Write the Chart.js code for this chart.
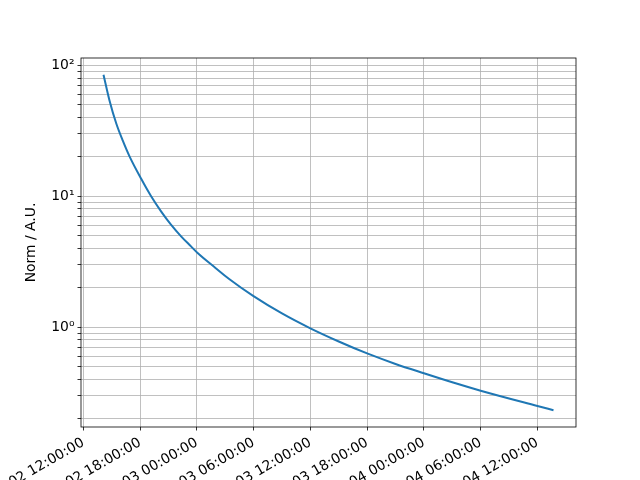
<!DOCTYPE html>
<html>
<head>
<meta charset="utf-8">
<script src="https://cdn.jsdelivr.net/npm/chart.js@4.4.0/dist/chart.umd.min.js"></script>
<style>
  html, body { margin: 0; padding: 0; background: #fff; }
</style>
</head>
<body>
<canvas id="normChart" width="640" height="480"></canvas>
<script>
// sample times and the values
const sampleTimes = [
  '2021-03-02 14:08', '2021-03-02 14:46', '2021-03-02 15:29', '2021-03-02 16:11',
  '2021-03-02 16:53', '2021-03-02 18:07', '2021-03-02 19:10', '2021-03-02 20:13',
  '2021-03-02 21:16', '2021-03-02 22:20', '2021-03-02 23:23', '2021-03-03 00:05',
  '2021-03-03 02:00', '2021-03-03 03:25', '2021-03-03 05:57', '2021-03-03 09:00',
  '2021-03-03 12:00', '2021-03-03 15:00', '2021-03-03 18:00', '2021-03-03 21:00',
  '2021-03-04 00:00', '2021-03-04 03:00', '2021-03-04 06:00', '2021-03-04 12:00',
  '2021-03-04 13:42'
];
const normValues = [
  85, 54, 36, 26.5,
  20.2, 13.6, 10, 7.67,
  6.07, 4.94, 4.14, 3.68,
  2.82, 2.33, 1.73, 1.27,
  0.977, 0.775, 0.628, 0.522,
  0.443, 0.378, 0.326, 0.249,
  0.231
];
const xTickLabels = [
  '2021-03-02 12:00:00', '2021-03-02 18:00:00', '2021-03-03 00:00:00',
  '2021-03-03 06:00:00', '2021-03-03 12:00:00', '2021-03-03 18:00:00',
  '2021-03-04 00:00:00', '2021-03-04 06:00:00', '2021-03-04 12:00:00'
];
const yTickLabels = { 1: '10\u2070', 10: '10\u00b9', 100: '10\u00b2' };

function toMs(s) {
  const [d, t] = s.split(' ');
  const [Y, M, D] = d.split('-').map(Number);
  const [h, m, sec] = t.split(':').map(Number);
  return Date.UTC(Y, M - 1, D, h, m || 0, sec || 0);
}

const points = sampleTimes.map((t, i) => ({ x: toMs(t), y: normValues[i] }));
const xTickValues = xTickLabels.map(toMs);

// matplotlib style 5% margins
const xLo = points[0].x, xHi = points[points.length - 1].x;
const xPad = (xHi - xLo) * 0.05;
const lLo = Math.log10(Math.min(...normValues)), lHi = Math.log10(Math.max(...normValues));
const lPad = (lHi - lLo) * 0.05;
const yMin = Math.pow(10, lLo - lPad), yMax = Math.pow(10, lHi + lPad);

const gridColor = '#b0b0b0';
const tickFont = { family: 'DejaVu Sans', size: 13.9 };

// black box round the plot area
const framePlugin = {
  id: 'frame',
  afterDraw(chart) {
    const { ctx, chartArea: a } = chart;
    ctx.save();
    ctx.strokeStyle = '#000';
    ctx.lineWidth = 0.8;
    ctx.strokeRect(a.left, a.top, a.right - a.left, a.bottom - a.top);
    ctx.restore();
  }
};

new Chart(document.getElementById('normChart'), {
  type: 'line',
  data: {
    datasets: [{
      data: points,
      borderColor: '#1f77b4',
      borderWidth: 2,
      pointRadius: 0,
      fill: false,
      cubicInterpolationMode: 'monotone'
    }]
  },
  options: {
    responsive: false,
    devicePixelRatio: 1,
    animation: false,
    layout: { padding: { top: 58, right: 64, left: 0, bottom: 0 } },
    plugins: { legend: { display: false }, tooltip: { enabled: false } },
    scales: {
      x: {
        type: 'linear',
        min: xLo - xPad,
        max: xHi + xPad,
        afterBuildTicks(scale) {
          scale.ticks = xTickValues.map(v => ({ value: v }));
        },
        afterFit(scale) {
          scale.height = 53;
          scale.paddingLeft = 0;
          scale.paddingRight = 0;
        },
        grid: { color: gridColor, lineWidth: 0.8, tickColor: '#000', tickLength: 3.5, tickWidth: 0.8 },
        border: { display: false },
        ticks: {
          autoSkip: false,
          maxRotation: 30,
          minRotation: 30,
          padding: 4,
          color: '#000',
          font: tickFont,
          callback(v) {
            const i = xTickValues.indexOf(v);
            return i >= 0 ? xTickLabels[i] : '';
          }
        }
      },
      y: {
        type: 'logarithmic',
        min: yMin,
        max: yMax,
        afterBuildTicks(scale) {
          const ticks = [];
          for (let e = -1; e <= 2; e++) {
            for (let m = 1; m <= 9; m++) {
              const v = m * Math.pow(10, e);
              if (v >= yMin && v <= yMax) ticks.push({ value: v, major: m === 1 });
            }
          }
          scale.ticks = ticks;
        },
        afterFit(scale) {
          scale.width = 81;
          scale.paddingTop = 0;
          scale.paddingBottom = 0;
        },
        grid: { color: gridColor, lineWidth: 0.8, tickColor: '#000', tickLength: 3.5, tickWidth: 0.8 },
        border: { display: false },
        ticks: {
          autoSkip: false,
          padding: 3,
          color: '#000',
          font: tickFont,
          callback(v) {
            const key = Math.round(v * 1000) / 1000;
            return yTickLabels[key] || '';
          }
        },
        title: {
          display: true,
          text: 'Norm / A.U.',
          color: '#000',
          font: tickFont,
          padding: { top: 23 }
        }
      }
    }
  },
  plugins: [framePlugin]
});
</script>
</body>
</html>
